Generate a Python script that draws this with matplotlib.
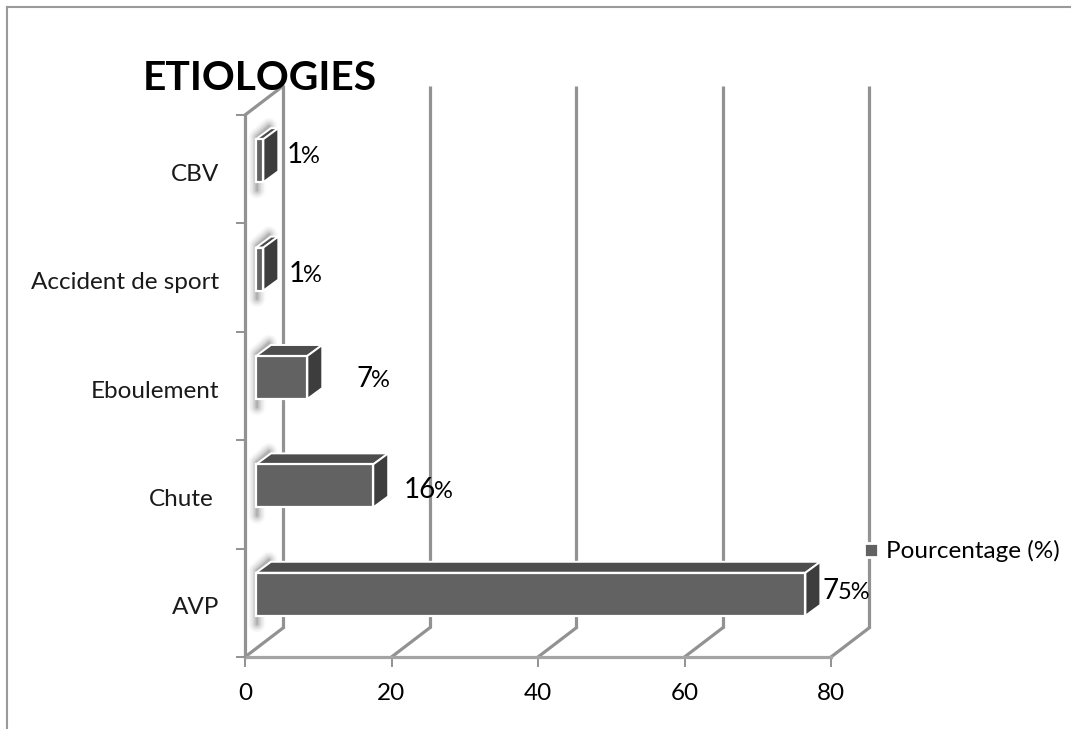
import matplotlib
matplotlib.use("Agg")
import matplotlib.pyplot as plt
from matplotlib.patches import Polygon, Rectangle
from matplotlib.transforms import Affine2D

categories = ["AVP", "Chute", "Eboulement", "Accident de sport", "CBV"]
values = [75, 16, 7, 1, 1]
value_labels = ["75%", "16%", "7%", "1%", "1%"]
x_ticks = [0, 20, 40, 60, 80]
series_name = "Pourcentage (%)"
title_text = "ETIOLOGIES"

W, H = 1071, 729
FRONT = "#626262"
TOP = "#4d4d4d"
SIDE = "#3d3d3d"
GRID = "#929292"
FONT = ["Lato", "DejaVu Sans"]
LABEL_SIZE = 17.5

fig = plt.figure(figsize=(W / 100, H / 100), dpi=100, facecolor="white")

# Axes box covers the front floor edge and the front wall of the 3D frame
left, right, top, bottom = 245, 831, 115, 657
ax = fig.add_axes([left / W, 1 - bottom / H, (right - left) / W, (bottom - top) / H])
n = len(categories)
ax.set_xlim(0, 80)
ax.set_ylim(-0.5, n - 0.5)
ax.axis("off")


def offset(px, py):
    """Data transform moved by a depth offset in pixels (py upward)."""
    return ax.transData + Affine2D().translate(px, py)


DEPTH_X, DEPTH_Y = 38, 29
y_min, y_max = ax.get_ylim()

# Back wall gridlines, floor diagonals, x ticks and their labels
for t in x_ticks:
    ax.plot([t, t], [y_min, y_max], transform=offset(DEPTH_X, DEPTH_Y), color=GRID, lw=2.3,
            clip_on=False, zorder=1, solid_capstyle="butt")
    x0, y0 = ax.transData.transform((t, y_min))
    ax.plot([x0, x0 + DEPTH_X], [y0, y0 + DEPTH_Y], transform=None, color=GRID, lw=2.3,
            clip_on=False, zorder=1)
    ax.plot([x0, x0], [y0, y0 - 9], transform=None, color=GRID, lw=1.4, clip_on=False, zorder=1)
    ax.text(t, y_min, str(t), transform=offset(0, -36), ha="center", va="center",
            fontsize=LABEL_SIZE, family=FONT, color="black", clip_on=False)

# Left side wall, front floor edge and category ticks
ax.plot([0, 0], [y_min, y_max], color=GRID, lw=2.3, clip_on=False, zorder=1)
ax.plot([0, 80], [y_min, y_min], color="#a4a4a4", lw=2.3, clip_on=False, zorder=1)
x0, ytop = ax.transData.transform((0, y_max))
ax.plot([x0, x0 + DEPTH_X], [ytop, ytop + DEPTH_Y], transform=None, color=GRID, lw=2.3,
        clip_on=False, zorder=1)
for i in range(n + 1):
    xp, yp = ax.transData.transform((0, i - 0.5))
    ax.plot([xp - 8, xp], [yp, yp], transform=None, color=GRID, lw=1.4, clip_on=False, zorder=1)

# Boxes: front face from the bar patches, top and side faces pushed back in depth
BAR_X, BAR_Y = 11, 8.5
BOX_X, BOX_Y = 15, 11
BAR_H = 0.397
front = offset(BAR_X, BAR_Y)
bars = ax.barh(range(n), values, height=BAR_H, color=FRONT, edgecolor="white", lw=1.6,
               transform=front, clip_on=False, zorder=5)

for i, v in enumerate(values):
    lo, hi = i - BAR_H / 2, i + BAR_H / 2
    (xa, ya) = front.transform((0, hi))
    (xb, yb) = front.transform((v, lo))
    (xc, yc) = front.transform((v, hi))
    (xd, yd) = front.transform((0, lo))
    # Soft shadow cast on the side wall, built from widening translucent strokes
    for w, a in ((17, 0.03), (14, 0.05), (11, 0.07), (8, 0.09), (5, 0.12), (2.5, 0.15)):
        ax.plot([xd + 1, xa + 1, xa + 13], [yd - 8, ya + 2, ya + 13], transform=None,
                color="#4a4a4a", alpha=a, lw=w * 0.72, clip_on=False, zorder=2,
                solid_joinstyle="round", solid_capstyle="round")
    # Top and side faces of the box
    ax.add_patch(Polygon([(xa, ya), (xc, yc), (xc + BOX_X, yc + BOX_Y), (xa + BOX_X, ya + BOX_Y)],
                         transform=None, facecolor=TOP, edgecolor="white", lw=1.4,
                         clip_on=False, zorder=4))
    ax.add_patch(Polygon([(xc, yc), (xb, yb), (xb + BOX_X, yb + BOX_Y), (xc + BOX_X, yc + BOX_Y)],
                         transform=None, facecolor=SIDE, edgecolor="white", lw=1.4,
                         clip_on=False, zorder=4))

# Value labels: larger leading digit(s), smaller tail, at hand-placed distances from the bars
label_dx = [17, 30, 49, 25, 23]
label_dy = [4.5, -2.5, 0, -3.5, 7.5]
lead_chars = [1, 2, 1, 1, 1]
renderer = fig.canvas.get_renderer()
for i, (v, s) in enumerate(zip(values, value_labels)):
    x_end, y_c = front.transform((v, i))
    base = y_c + label_dy[i] - 9.5
    head = ax.text(x_end + label_dx[i], base, s[:lead_chars[i]], transform=None,
                   ha="left", va="baseline", fontsize=20, family=FONT, color="black",
                   zorder=7, clip_on=False)
    head_w = head.get_window_extent(renderer).width
    ax.text(x_end + label_dx[i] + head_w - 1, base, s[lead_chars[i]:],
            transform=None, ha="left", va="baseline", fontsize=17, family=FONT,
            color="black", zorder=7, clip_on=False)

# Category labels, right aligned next to the axis ticks
label_right = [219, 214, 219, 219, 219]
for i, c in enumerate(categories):
    _, yp = ax.transData.transform((0, i))
    fig.text(label_right[i] / W, (yp - 5) / H, c, ha="right", va="center",
             fontsize=LABEL_SIZE, family=FONT, color="#1a1a1a")

# Outer chart frame, open on the right and at the bottom
fig.add_artist(plt.Line2D([7 / W, 7 / W], [1 - 7 / H, 0], color="#9a9a9a", lw=1.5))
fig.add_artist(plt.Line2D([7 / W, 1], [1 - 7 / H, 1 - 7 / H], color="#9a9a9a", lw=1.5))

fig.text(143 / W, 1 - 78 / H, title_text, ha="left", va="center", fontsize=29.3,
         fontweight="bold", family=FONT, color="black")

# Legend key and its label
fig.add_artist(Rectangle((864 / W, 1 - 557 / H), 14 / W, 14 / H, transform=fig.transFigure,
                         facecolor=FRONT, edgecolor="white", lw=2, zorder=8))
fig.text(886 / W, 1 - 551 / H, series_name, ha="left", va="center", fontsize=LABEL_SIZE,
         family=FONT, color="black")

fig.savefig("out.png", dpi=100)
